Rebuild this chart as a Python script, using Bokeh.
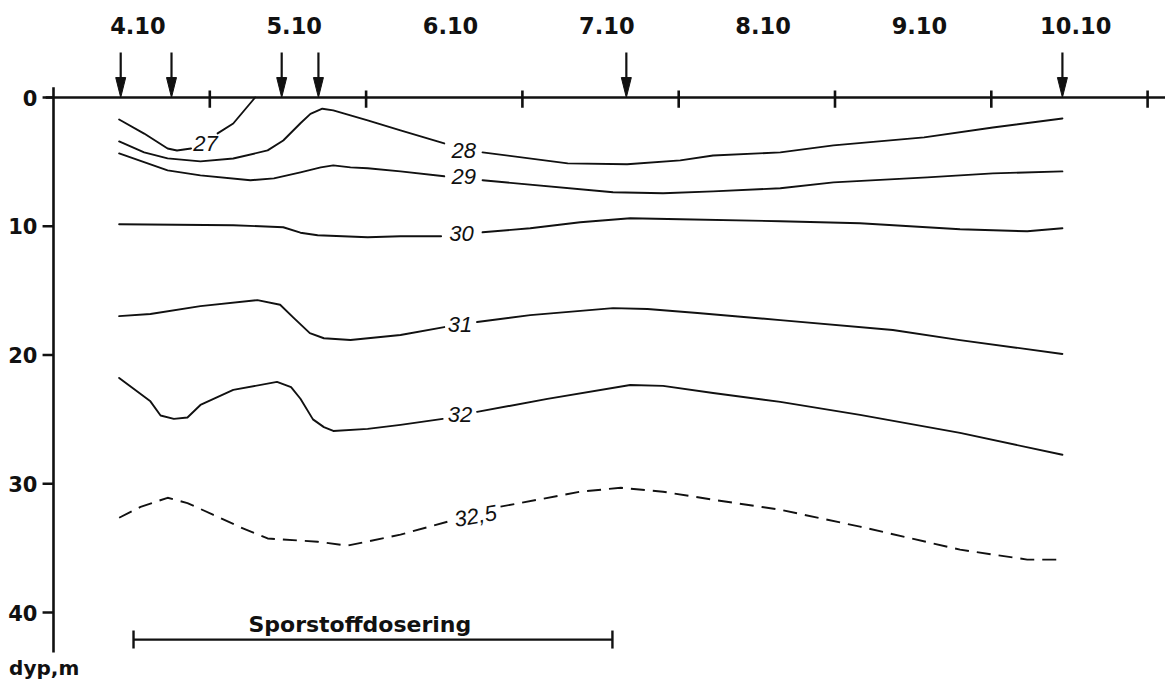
from bokeh.plotting import figure
from bokeh.models import Range1d
from bokeh.core.properties import value
from bokeh.embed import file_html
from bokeh.resources import INLINE

nan = float("nan")

# ---- data -------------------------------------------------------------
DAY_LABELS = ["4.10", "5.10", "6.10", "7.10", "8.10", "9.10", "10.10"]
DAY_START = [4, 5, 6, 7, 8, 9, 10]
DAY_TICKS = [5, 6, 7, 8, 9, 10, 11]
DEPTH_TICKS = [0, 10, 20, 30, 40]
DEPTH_LABELS = ["0", "10", "20", "30", "40"]

STATIONS = [4.43, 4.755, 5.46, 5.695, 7.665, 10.455]

c27_t = [4.42, 4.58, 4.73, 4.79, 4.88, nan, 5.05, 5.15, 5.29]
c27_d = [1.71, 2.80, 3.96, 4.12, 3.96, nan, 2.79, 2.02, 0.00]

c28_t = [4.42, 4.58, 4.73, 4.94, 5.15, 5.37, 5.47, 5.58, 5.644, 5.72, 5.79, 6.01, 6.22, 6.50, nan,
         6.745, 7.29, 7.67, 8.01, 8.22, 8.65, 8.99, 9.57, 10.01, 10.455]
c28_d = [3.41, 4.26, 4.73, 4.96, 4.74, 4.11, 3.34, 2.00, 1.27, 0.87, 1.00, 1.78, 2.56, 3.57, nan,
         4.26, 5.12, 5.19, 4.88, 4.50, 4.26, 3.72, 3.10, 2.33, 1.63]

c29_t = [4.42, 4.73, 4.94, 5.26, 5.41, 5.58, 5.71, 5.79, 5.90, 6.01, 6.22, 6.50, nan,
         6.745, 7.58, 7.90, 8.22, 8.65, 8.99, 9.59, 10.01, 10.455]
c29_d = [4.34, 5.66, 6.05, 6.43, 6.28, 5.81, 5.43, 5.27, 5.43, 5.50, 5.74, 6.12, nan,
         6.43, 7.36, 7.44, 7.29, 7.05, 6.59, 6.20, 5.89, 5.74]

c30_t = [4.42, 5.15, 5.47, 5.58, 5.69, 6.01, 6.22, 6.48, nan,
         6.745, 7.05, 7.37, 7.69, 8.01, 8.65, 9.16, 9.80, 10.23, 10.455]
c30_d = [9.84, 9.92, 10.08, 10.50, 10.70, 10.85, 10.78, 10.78, nan,
         10.47, 10.16, 9.69, 9.38, 9.46, 9.61, 9.77, 10.23, 10.39, 10.16]

c31_t = [4.42, 4.62, 4.94, 5.305, 5.45, 5.535, 5.64, 5.73, 5.90, 6.22, 6.50, nan,
         6.71, 7.05, 7.58, 7.80, 8.12, 8.65, 9.37, 9.80, 10.455]
c31_d = [16.98, 16.82, 16.20, 15.74, 16.10, 17.10, 18.30, 18.70, 18.84, 18.45, 17.83, nan,
         17.44, 16.90, 16.36, 16.43, 16.74, 17.29, 18.06, 18.84, 19.92]

c32_t = [4.42, 4.62, 4.685, 4.77, 4.857, 4.94, 5.15, 5.43, 5.52, 5.58, 5.66, 5.73, 5.79, 6.01,
         6.22, 6.49, nan, 6.71, 7.16, 7.69, 7.90, 8.22, 8.65, 9.16, 9.80, 10.455]
c32_d = [21.78, 23.60, 24.70, 24.96, 24.85, 23.88, 22.71, 22.09, 22.50, 23.40, 25.00, 25.60, 25.90, 25.74,
         25.43, 24.96, nan, 24.42, 23.41, 22.33, 22.40, 22.95, 23.64, 24.65, 26.05, 27.75]

c325_t = [4.42, 4.557, 4.73, 4.857, 5.02, 5.20, 5.37, 5.69, 5.88, 6.22, 6.52, nan,
          6.86, 7.37, 7.63, 7.90, 8.22, 8.65, 9.16, 9.80, 10.23, 10.46]
c325_d = [32.64, 31.80, 31.09, 31.50, 32.40, 33.40, 34.25, 34.50, 34.81, 33.95, 32.95, nan,
          31.78, 30.62, 30.31, 30.62, 31.24, 32.02, 33.33, 35.12, 35.89, 35.89]

CONTOUR_LABELS = ["27", "28", "29", "30", "31", "32"]
LABEL_T = [4.972, 6.625, 6.625, 6.61, 6.60, 6.60]
LABEL_D = [3.57, 4.15, 6.10, 10.6, 17.6, 24.6]
DASH_LABEL = "32,5"
DASH_LABEL_T = 6.70
DASH_LABEL_D = 32.5

DOSE_START = 4.512
DOSE_END = 7.576
DOSE_TEXT = "Sporstoffdosering"
DEPTH_TITLE = "dyp,m"

# ---- figure -----------------------------------------------------------
W, H = 1165, 683
PX_PER_DAY = 156.3
PX_PER_M = 12.875
X0_PX, Y0_PX = 53, 97   # pixel position of (day 4, depth 0)

p = figure(width=W, height=H,
           x_range=Range1d(4 - X0_PX / PX_PER_DAY, 4 + (W - X0_PX) / PX_PER_DAY),
           y_range=Range1d((H - Y0_PX) / PX_PER_M, -Y0_PX / PX_PER_M),
           x_axis_type=None, y_axis_type=None, toolbar_location=None,
           output_backend="svg", min_border=0, outline_line_color=None,
           background_fill_color="white", border_fill_color="white")
p.grid.visible = False

ink = "#111111"
AX_W = 2.6

# axes
p.segment(x0=[3.95], y0=[0], x1=[11.12], y1=[0], line_color=ink, line_width=AX_W)
p.segment(x0=[4.0], y0=[-0.8], x1=[4.0], y1=[43.1], line_color=ink, line_width=AX_W)
p.segment(x0=[3.93] * len(DEPTH_TICKS), y0=DEPTH_TICKS, x1=[4.0] * len(DEPTH_TICKS),
          y1=DEPTH_TICKS, line_color=ink, line_width=AX_W)
p.segment(x0=DAY_TICKS, y0=[-0.55] * len(DAY_TICKS), x1=DAY_TICKS, y1=[0.8] * len(DAY_TICKS),
          line_color=ink, line_width=AX_W)

# tick labels
p.text(x=[d + 0.54 for d in DAY_START], y=[-5.6] * len(DAY_START), text=DAY_LABELS,
       text_font=value("DejaVu Sans"), text_font_style="bold", text_font_size="22.5px",
       text_align="center", text_baseline="middle", text_color=ink)
p.text(x=[3.897] * len(DEPTH_TICKS), y=DEPTH_TICKS, text=DEPTH_LABELS,
       text_font=value("DejaVu Sans"), text_font_style="bold", text_font_size="21px",
       text_align="right", text_baseline="middle", text_color=ink)
p.text(x=[3.716], y=[44.3], text=[DEPTH_TITLE],
       text_font=value("DejaVu Sans"), text_font_style="bold", text_font_size="20px",
       text_align="left", text_baseline="middle", text_color=ink)

# station arrows
p.segment(x0=STATIONS, y0=[-3.5] * len(STATIONS), x1=STATIONS, y1=[-1.3] * len(STATIONS),
          line_color=ink, line_width=2.2)
p.patches(xs=[[s - 0.032, s + 0.032, s] for s in STATIONS],
          ys=[[-1.55, -1.55, 0.0] for s in STATIONS],
          fill_color=ink, line_color=ink, line_width=1)

# contours
for t, d in [(c27_t, c27_d), (c28_t, c28_d), (c29_t, c29_d), (c30_t, c30_d),
             (c31_t, c31_d), (c32_t, c32_d)]:
    p.line(t, d, line_color=ink, line_width=1.9, line_join="round", line_cap="round")
p.line(c325_t, c325_d, line_color=ink, line_width=1.9, line_dash="14 8")

p.text(x=LABEL_T, y=LABEL_D, text=CONTOUR_LABELS,
       text_font=value("Liberation Sans"), text_font_style="italic", text_font_size="22px",
       text_align="center", text_baseline="middle", text_color=ink)
p.text(x=[DASH_LABEL_T], y=[DASH_LABEL_D], text=[DASH_LABEL], angle=0.17,
       text_font=value("Liberation Sans"), text_font_style="italic", text_font_size="22px",
       text_align="center", text_baseline="middle", text_color=ink)

# dosing period bar
p.segment(x0=[DOSE_START], y0=[42.1], x1=[DOSE_END], y1=[42.1], line_color=ink, line_width=2.2)
p.segment(x0=[DOSE_START, DOSE_END], y0=[41.4, 41.4], x1=[DOSE_START, DOSE_END], y1=[42.8, 42.8],
          line_color=ink, line_width=2.4)
p.text(x=[5.96], y=[40.9], text=[DOSE_TEXT],
       text_font=value("DejaVu Sans"), text_font_style="bold", text_font_size="22px",
       text_align="center", text_baseline="middle", text_color=ink)

open("out.html", "w").write(file_html(p, INLINE))
